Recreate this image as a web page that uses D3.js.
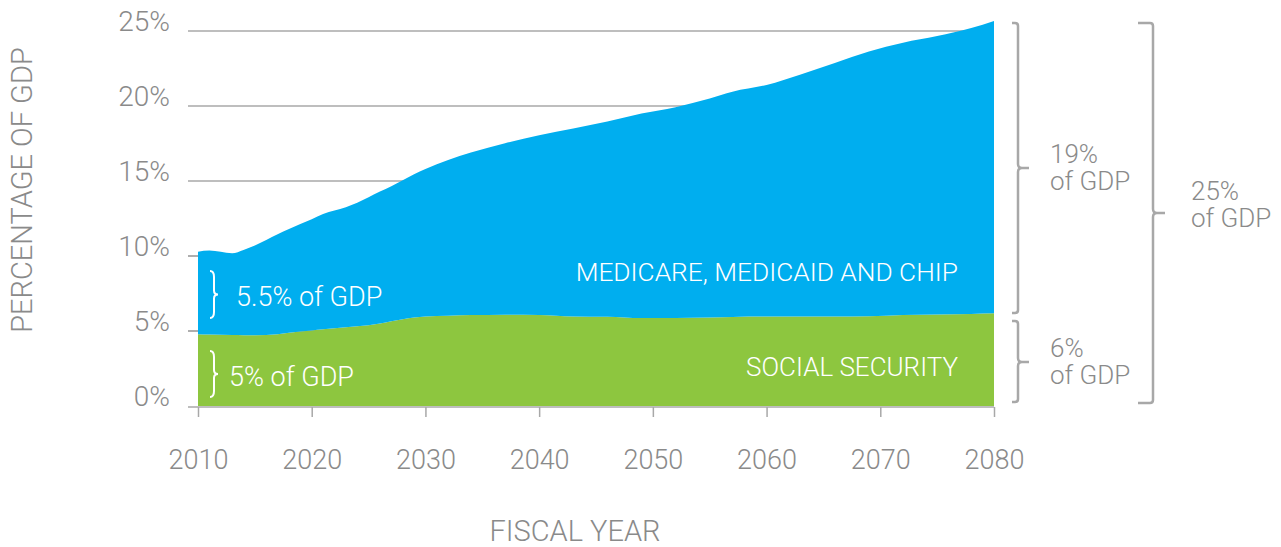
<!DOCTYPE html>
<html><head><meta charset="utf-8">
<script src="https://cdn.jsdelivr.net/npm/d3@7"></script>
<style>
html,body{margin:0;padding:0;background:#fff;}
svg{display:block;}
text{font-family:Roboto,"Liberation Sans",sans-serif;font-weight:300;}
</style></head>
<body><svg id="chart" width="1281" height="547"></svg>
<script>
const years = [2010,2011,2013,2014,2015,2017,2018,2020,2021,2023,2024,2026,2027,2029,2030,2032,2034,2037,2040,2043,2046,2049,2052,2055,2057,2060,2063,2066,2069,2072,2075,2078,2080];
const socialSecurity = [4.78,4.76,4.73,4.72,4.72,4.78,4.88,5.03,5.11,5.25,5.31,5.50,5.65,5.90,5.96,6.02,6.06,6.09,6.07,5.97,5.95,5.86,5.87,5.90,5.94,5.96,5.96,5.96,5.98,6.06,6.10,6.14,6.18];
const healthCare = [5.51,5.60,5.45,5.68,5.98,6.67,6.92,7.42,7.69,8.00,8.24,8.80,9.00,9.55,9.84,10.38,10.84,11.43,11.98,12.53,13.01,13.64,14.05,14.60,15.01,15.44,16.14,16.91,17.65,18.16,18.56,19.06,19.49];
const seriesNames = ["SOCIAL SECURITY","MEDICARE, MEDICAID AND CHIP"];
const xTicks = [2010,2020,2030,2040,2050,2060,2070,2080];
const yTicks = [0,5,10,15,20,25];
const yTickLabels = ["0%","5%","10%","15%","20%","25%"];

const colors = {ss:"#8dc63f", hc:"#00aeef", grid:"#a8a8a8", text:"#8a8a8a"};
const svg = d3.select("#chart");
const x = d3.scaleLinear().domain([2010,2080]).range([198,994]);
const y = d3.scaleLinear().domain([0,25]).range([406,31]);
const gridLeft = 188;

// gridlines
svg.append("g").selectAll("line").data(yTicks.filter(d=>d>0)).join("line")
  .attr("x1",gridLeft).attr("x2",x(2080)).attr("y1",d=>y(d)).attr("y2",d=>y(d))
  .attr("stroke",colors.grid).attr("stroke-width",1.5);

// stacked areas
const table = years.map((yr,i)=>({year:yr, ss:socialSecurity[i], hc:healthCare[i]}));
const stack = d3.stack().keys(["ss","hc"]);
const layers = stack(table);
const area = d3.area().x(d=>x(d.data.year)).y0(d=>y(d[0])).y1(d=>y(d[1])).curve(d3.curveMonotoneX);
svg.append("g").selectAll("path").data(layers).join("path")
  .attr("d",area).attr("fill",(d,i)=>i===0?colors.ss:colors.hc);

// x axis
const xAxis = d3.axisBottom(x).tickValues(xTicks).tickFormat(d3.format("d")).tickSize(10).tickPadding(33);
const gx = svg.append("g").attr("transform","translate(0,407)").call(xAxis);
gx.select(".domain").remove();
gx.append("line").attr("x1",gridLeft).attr("x2",x(2080)).attr("stroke",colors.grid).attr("stroke-width",1.5);
gx.selectAll(".tick line").attr("stroke",colors.grid).attr("stroke-width",1.5);
gx.selectAll(".tick text").attr("fill",colors.text).attr("font-size",27).attr("font-family","Roboto, sans-serif").attr("font-weight",300);

// y axis labels
const yAxis = d3.axisLeft(y).tickValues(yTicks).tickFormat((d,i)=>yTickLabels[i]).tickSize(0).tickPadding(18);
const gy = svg.append("g").attr("transform",`translate(${gridLeft},0)`).call(yAxis);
gy.select(".domain").remove();
gy.selectAll(".tick text").attr("fill",colors.text).attr("font-size",28).attr("dy","-0.02em").attr("font-family","Roboto, sans-serif").attr("font-weight",300);
// small tick stubs left of area
svg.append("g").selectAll("line").data([5,10]).join("line")
  .attr("x1",gridLeft).attr("x2",x(2010)).attr("y1",d=>y(d)).attr("y2",d=>y(d))
  .attr("stroke",colors.grid).attr("stroke-width",1.5);

// axis titles
svg.append("text").attr("x",575).attr("y",541).attr("text-anchor","middle")
  .attr("fill",colors.text).attr("font-size",29).text("FISCAL YEAR");
svg.append("text").attr("transform","translate(32,190) rotate(-90)").attr("text-anchor","middle")
  .attr("fill",colors.text).attr("font-size",29).text("PERCENTAGE OF GDP");

// series labels
svg.append("text").attr("x",958).attr("y",281).attr("text-anchor","end").attr("fill","#fff").attr("font-size",26.3).text(seriesNames[1]);
svg.append("text").attr("x",958).attr("y",376).attr("text-anchor","end").attr("fill","#fff").attr("font-size",26).text(seriesNames[0]);

// left braces + labels
function brace(xb, y0, y1, w){
  const m=(y0+y1)/2;
  return `M${xb-w},${y0} Q${xb},${y0} ${xb},${y0+6} L${xb},${m-4} Q${xb},${m} ${xb+w},${m} Q${xb},${m} ${xb},${m+4} L${xb},${y1-6} Q${xb},${y1} ${xb-w},${y1}`;
}
svg.append("path").attr("d",brace(214,271,318,4)).attr("fill","none").attr("stroke","#fff").attr("stroke-width",2);
svg.append("path").attr("d",brace(214,351,397,4)).attr("fill","none").attr("stroke","#fff").attr("stroke-width",2);
svg.append("text").attr("x",236).attr("y",306).attr("fill","#fff").attr("font-size",27).text("5.5% of GDP");
svg.append("text").attr("x",229).attr("y",386).attr("fill","#fff").attr("font-size",27).text("5% of GDP");

// right brackets
function bracket(xb, y0, y1, hook, tip, mid){
  const m = mid===undefined ? (y0+y1)/2 : mid;
  return `M${xb-hook},${y0} L${xb-3},${y0} Q${xb},${y0} ${xb},${y0+3} L${xb},${m-4} Q${xb},${m} ${xb+4},${m} L${xb+tip},${m} M${xb+4},${m} Q${xb},${m} ${xb},${m+4} L${xb},${y1-3} Q${xb},${y1} ${xb-3},${y1} L${xb-hook},${y1}`;
}
const bg = svg.append("g").attr("fill","none").attr("stroke","#a8a8a8").attr("stroke-width",2.5);
bg.append("path").attr("d",bracket(1018,23,313,6,11,168));
bg.append("path").attr("d",bracket(1018,321,402,6,11,362));
bg.append("path").attr("d",bracket(1153,23,403,15,12,213));

const ann = svg.append("g").attr("fill",colors.text).attr("font-size",26);
function twoLine(xp, yp, l1, l2){
  const t = ann.append("text").attr("x",xp).attr("y",yp);
  t.append("tspan").attr("x",xp).attr("y",yp).text(l1);
  t.append("tspan").attr("x",xp).attr("y",yp+27).text(l2);
}
twoLine(1050,163,"19%","of GDP");
twoLine(1050,357,"6%","of GDP");
twoLine(1191,200,"25%","of GDP");
</script></body></html>
